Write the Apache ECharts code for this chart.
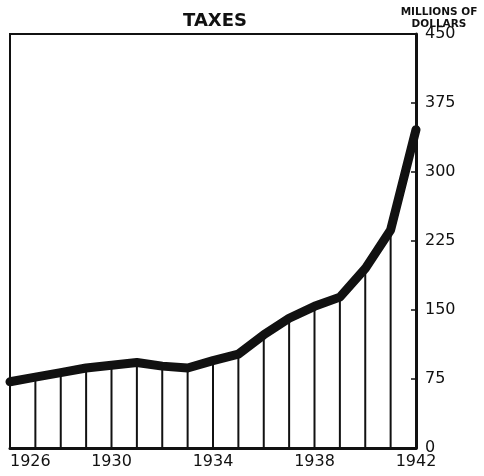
<!DOCTYPE html>
<html>
<head>
<meta charset="utf-8">
<script src="https://cdn.jsdelivr.net/npm/echarts@6/dist/echarts.min.js"></script>
<style>
  html, body { margin: 0; padding: 0; background: #fff; }
  #chart { width: 484px; height: 476px; }
</style>
</head>
<body>
<div id="chart"></div>
<script>
// taxes, millions of dollars
const years = [1926, 1927, 1928, 1929, 1930, 1931, 1932, 1933, 1934,
  1935, 1936, 1937, 1938, 1939, 1940, 1941, 1942];
const taxes = [72, 77, 82, 87, 90, 93, 89, 87, 95,
  102, 123, 141, 154, 164, 195, 237, 346];
const yTicks = [0, 75, 150, 225, 300, 375, 450];

const ink = "#111";
const font = "DejaVu Sans";
const points = years.map((y, i) => [y, taxes[i]]);

const chart = echarts.init(document.getElementById("chart"));
chart.setOption({
  backgroundColor: "#fff",
  animation: false,
  title: [
    {
      text: "TAXES",
      left: 210, top: 7, textAlign: "center",
      textStyle: { fontFamily: font, fontSize: 18, fontWeight: "bold", color: ink },
    },
    {
      text: "MILLIONS OF\nDOLLARS",
      left: 434, top: 1, textAlign: "center",
      textStyle: { fontFamily: font, fontSize: 10.5, fontWeight: "bold", color: ink, lineHeight: 12 },
    },
  ],
  grid: {
    left: 10, right: 68, top: 34, bottom: 28,
    show: true, borderColor: ink, borderWidth: 2,
  },
  xAxis: {
    type: "value",
    min: years[0],
    max: years[years.length - 1],
    interval: 4,
    axisLine: { show: true, onZero: false, lineStyle: { color: ink, width: 3 } },
    axisTick: { show: false },
    splitLine: { show: false },
    axisLabel: {
      color: ink, fontFamily: font, fontSize: 16, margin: 6,
      alignMinLabel: "left",
      formatter: (v) => String(v),
    },
  },
  yAxis: {
    type: "value",
    position: "right",
    min: yTicks[0],
    max: yTicks[yTicks.length - 1],
    interval: 75,
    axisLine: { show: true, lineStyle: { color: ink, width: 3 } },
    axisTick: { show: true, inside: true, length: 5, lineStyle: { color: ink, width: 1.5 } },
    splitLine: { show: false },
    axisLabel: { color: ink, fontFamily: font, fontSize: 16, margin: 9 },
  },
  series: [
    {
      type: "bar",
      barWidth: 2,
      itemStyle: { color: ink },
      data: points,
      z: 1,
    },
    {
      type: "line",
      symbol: "none",
      lineStyle: { color: ink, width: 9, join: "round", cap: "round" },
      data: points,
      z: 3,
    },
  ],
});
</script>
</body>
</html>
